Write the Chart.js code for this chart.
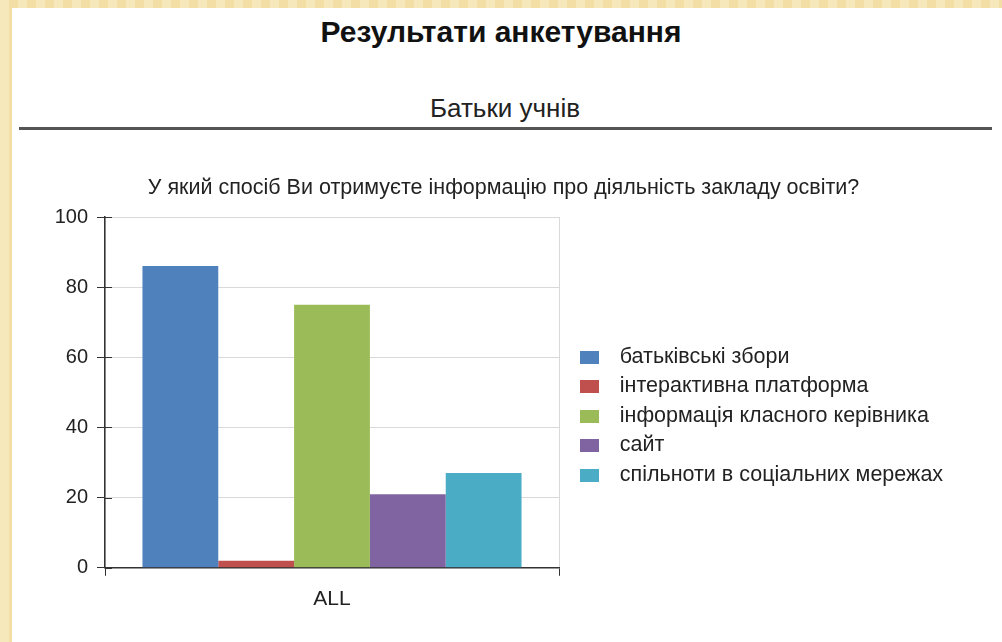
<!DOCTYPE html>
<html>
<head>
<meta charset="utf-8">
<script src="https://cdn.jsdelivr.net/npm/chart.js@4.4.0/dist/chart.umd.min.js"></script>
<style>
  html, body { margin: 0; padding: 0; }
  body {
    width: 1002px; height: 642px; position: relative; overflow: hidden;
    background: #f5e3ad;
    background-image: repeating-linear-gradient(90deg, rgba(255,255,255,0.18) 0 9px, rgba(230,200,120,0.15) 9px 18px);
    font-family: "Liberation Sans", Arial, sans-serif;
  }
  #panel { position: absolute; left: 12px; top: 8px; right: 0; bottom: 0; background: #fff; }
  #h1 { position: absolute; left: 0; width: 1002px; top: 17px; text-align: center;
        font-size: 30px; line-height: 1; font-weight: bold; color: #111; }
  #h2 { position: absolute; left: 4px; width: 1002px; top: 95px; text-align: center;
        font-size: 26px; line-height: 1; color: #222; }
  #rule { position: absolute; left: 19px; width: 973px; top: 127px; height: 2.5px; background: #555; }
  #wrap { position: absolute; left: 0; top: 150px; width: 1002px; height: 492px; }
</style>
</head>
<body>
<div id="panel"></div>
<div id="h1">Результати анкетування</div>
<div id="h2">Батьки учнів</div>
<div id="rule"></div>
<div id="wrap"><canvas id="myChart"></canvas></div>
<script>
const categories = ['ALL'];
const seriesNames = [
  'батьківські збори',
  'інтерактивна платформа',
  'інформація класного керівника',
  'сайт',
  'спільноти в соціальних мережах'
];
const seriesValues = [86, 2, 75, 21, 27];
const seriesColors = ['#4f81bd', '#c0504d', '#9bbb59', '#8064a2', '#4bacc6'];
const yMin = 0, yMax = 100, yStep = 20;
const chartTitle = 'У який спосіб Ви отримуєте інформацію про діяльність закладу освіти?';

const FONT = '"Liberation Sans", Arial, sans-serif';
const PLOT_RIGHT = 559; // where the plot should end (legend starts there)

// legend swatches: coloured box with blank room either side
const swatches = seriesColors.map(c => {
  const cv = document.createElement('canvas');
  cv.width = 42; cv.height = 13;
  const g = cv.getContext('2d');
  g.fillStyle = c;
  g.fillRect(13, 0, 19, 13);
  return cv;
});

// short dark tick marks that cross the y axis into the plot
const crossTicks = {
  id: 'crossTicks',
  afterDraw(chart) {
    const { ctx, chartArea, scales } = chart;
    ctx.save();
    ctx.strokeStyle = '#333';
    ctx.lineWidth = 1;
    for (let v = yMin; v <= yMax; v += yStep) {
      const y = Math.round(scales.y.getPixelForValue(v)) + 0.5;
      ctx.beginPath();
      ctx.moveTo(chartArea.left, y);
      ctx.lineTo(chartArea.left + 7, y);
      ctx.stroke();
    }
    ctx.restore();
  }
};

const ctx = document.getElementById('myChart').getContext('2d');
const chart = new Chart(ctx, {
  type: 'bar',
  data: {
    labels: categories,
    datasets: seriesNames.map((name, i) => ({
      label: name,
      data: [seriesValues[i]],
      backgroundColor: seriesColors[i],
      borderWidth: 0,
      barPercentage: 1,
      categoryPercentage: 0.835
    }))
  },
  options: {
    responsive: true,
    maintainAspectRatio: false,
    animation: false,
    layout: { padding: { left: 54, right: 47, top: 0, bottom: 19 } },
    scales: {
      x: {
        grid: { color: '#d9d9d9', tickColor: '#333', tickLength: 8, offset: true },
        border: { color: '#333', width: 1.5 },
        ticks: { color: '#222', padding: 11, font: { family: FONT, size: 21 } }
      },
      y: {
        min: yMin,
        max: yMax,
        afterFit: s => { s.width = 51; },
        grid: { color: '#d9d9d9', tickColor: '#333', tickLength: 8 },
        border: { color: '#333', width: 1.5 },
        ticks: { stepSize: yStep, color: '#222', padding: 9, font: { family: FONT, size: 20 } }
      }
    },
    plugins: {
      title: {
        display: true,
        text: chartTitle,
        color: '#222',
        font: { family: FONT, size: 21.5, weight: 'normal' },
        padding: { top: 25.1, bottom: 16.1 }
      },
      legend: {
        position: 'right',
        align: 'start',
        fullSize: false,
        maxWidth: 600,
        title: { display: true, text: ' ', font: { size: 10 }, padding: { top: 109.25, bottom: 0 } },
        labels: {
          usePointStyle: true,
          pointStyleWidth: 42,
          boxHeight: 13,
          padding: 8,
          color: '#222',
          font: { family: FONT, size: 21.5 },
          generateLabels: c => Chart.defaults.plugins.legend.labels.generateLabels(c)
            .map((l, i) => ({ ...l, pointStyle: swatches[i] }))
        }
      },
      tooltip: { enabled: false }
    }
  },
  plugins: [crossTicks]
});

// give the legend the room it needs so the plot ends where it should
chart.options.layout.padding.right = chart.width - PLOT_RIGHT - chart.legend.width;
chart.update();
</script>
</body>
</html>
